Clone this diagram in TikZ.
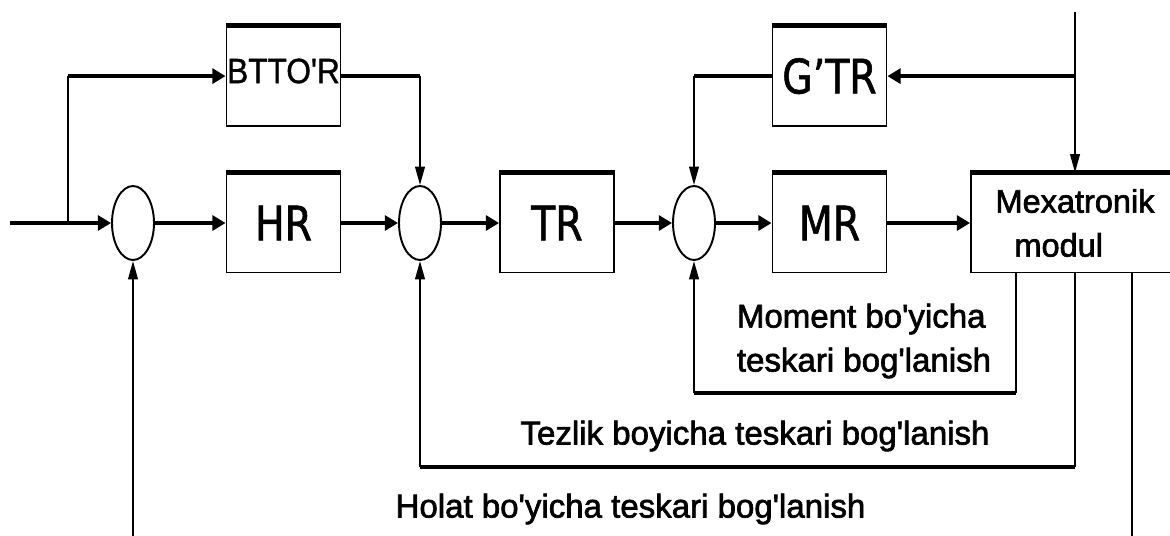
\documentclass[tikz,border=0pt]{standalone}
\usepackage{fontspec}
\setmainfont{Liberation Sans}[Ligatures=TeXOff, FakeBold=2]
\newfontfamily\boxfont[FakeStretch=0.83, FakeBold=1.2]{DejaVu Sans}
\newfontfamily\narrowfont[Ligatures=TeXOff, FakeStretch=0.9, FakeBold=1]{Liberation Sans}
\usetikzlibrary{positioning,arrows.meta,shapes.geometric}

\tikzset{
  blk/.style={draw, line width=1.1pt, minimum width=2.28cm, minimum height=1.98cm,
    inner sep=0pt, font=\boxfont\fontsize{27}{30}\selectfont},
  adder/.style={draw, ellipse, line width=1.1pt, minimum width=0.84cm,
    minimum height=1.48cm, inner sep=0pt},
  hl/.style={line width=2.4pt},
  vl/.style={line width=1.2pt},
  fbh/.style={line width=1.9pt},
  harr/.style={-{Triangle[length=7.5pt,width=8.5pt]}},
  varr/.style={-{Triangle[length=10.5pt,width=5.5pt]}},
  lbl/.style={font=\fontsize{18.8}{25}\selectfont, inner sep=0pt},
}

\begin{document}
\begin{tikzpicture}[x=0.02cm, y=-0.02cm]
\useasboundingbox (0,0) rectangle (1170,535);
\clip (0,0) rectangle (1170,535);
% forward chain
\node[adder] (c1) at (133,223) {};
\node[blk] (hr) at (283.5,223) {HR};
\node[adder] (c2) at (420,223) {};
\node[blk] (tr) at (557,223) {TR};
\node[adder] (c3) at (694,223) {};
\node[blk] (mr) at (829.5,223) {MR};
\node[blk, minimum width=4.16cm, align=center, font=\fontsize{18.5}{25}\selectfont] (mex) at (1075,223) {Mexatronik\\modul\hspace*{1em}};
% upper blocks
\node[blk, above=0.92cm of hr, font=\narrowfont\fontsize{20}{22}\selectfont, text depth=6pt] (btto) {BTTO'R};
\node[blk, above=0.92cm of mr] (gtr) {G’TR};
\foreach \b in {btto,hr,tr,mr,gtr,mex}
  \draw[line width=3pt] (\b.north west) -- (\b.north east);
% labels
\node[lbl, align=left] (mom) at (864,341) {Moment bo'yicha\\teskari bog'lanish};
\node[lbl] (tez) at (755,436) {Tezlik boyicha teskari bog'lanish};
\node[lbl] (hol) at (630.5,509) {Holat bo'yicha teskari bog'lanish};
% main signal
\coordinate (in) at (10,223);
\coordinate (br) at (68,223);
\draw[hl, harr] (in) -- (c1.west);
\draw[hl, harr] (c1.east) -- (hr.west);
\draw[hl, harr] (hr.east) -- (c2.west);
\draw[hl, harr] (c2.east) -- (tr.west);
\draw[hl, harr] (tr.east) -- (c3.west);
\draw[hl, harr] (c3.east) -- (mr.west);
\draw[hl, harr] (mr.east) -- (mex.west);
% feed-forward through BTTO'R
\draw[vl] (br) -- (br |- btto.west);
\draw[hl, harr] (br |- btto.west) -- (btto.west);
\draw[hl] (btto.east) -- (c2 |- btto.east);
\draw[vl, varr] (c2 |- btto.east) -- (c2.north);
% input from top and G'TR
\coordinate (top) at (1075,12);
\draw[vl, varr] (top) -- (mex.north);
\draw[hl, harr] (top |- gtr.east) -- (gtr.east);
\draw[hl] (gtr.west) -- (c3 |- gtr.west);
\draw[vl, varr] (c3 |- gtr.west) -- (c3.north);
% moment feedback
\coordinate (mo) at (1016,272);
\coordinate (mo2) at (1016,393);
\draw[vl] (mo) -- (mo2);
\draw[fbh] (mo2) -- (c3 |- mo2);
\draw[vl, varr] (c3 |- mo2) -- (c3.south);
% speed feedback
\coordinate (tz2) at (1075,467);
\draw[vl] (mex.south) -- (tz2);
\draw[fbh] (tz2) -- (c2 |- tz2);
\draw[vl, varr] (c2 |- tz2) -- (c2.south);
% position feedback
\coordinate (ho) at (1132,272);
\coordinate (ho2) at (1132,545);
\coordinate (ho3) at (133,545);
\draw[vl] (ho) -- (ho2);
\draw[vl, varr] (ho3) -- (c1.south);
\end{tikzpicture}
\end{document}
